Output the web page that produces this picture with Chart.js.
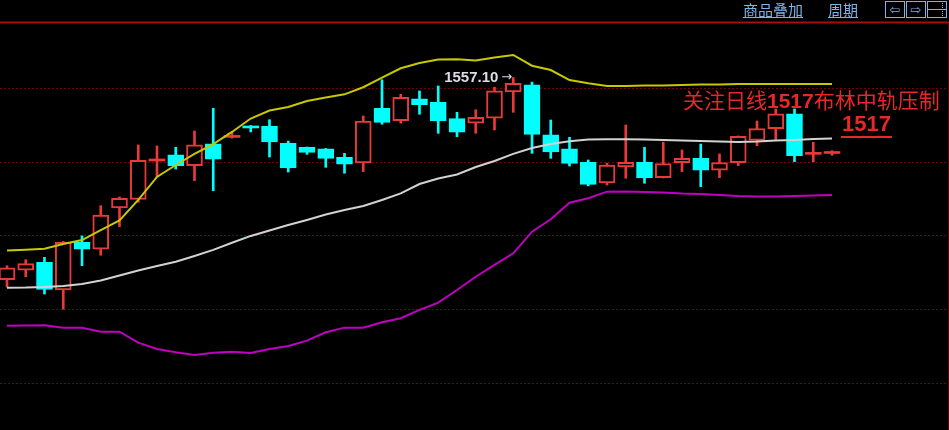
<!DOCTYPE html>
<html lang="zh">
<head>
<meta charset="UTF-8">
<title>日线 布林带</title>
<script src="https://cdn.jsdelivr.net/npm/chart.js"></script>
<style>
  body { margin: 0; background: #000; }
  #wrap { position: relative; width: 949px; height: 430px; overflow: hidden; background: #000; }
  #chart { position: absolute; left: 0; top: 0; }
  .menu { position: absolute; top: 1px; font: 15px "Noto Sans CJK SC"; line-height: 18px; color: #80b2ea; text-decoration: underline; }
  .btn { position: absolute; top: 1px; width: 18px; height: 15px; border: 1px solid #80b2ea; color: #80b2ea;
         font: 13px "DejaVu Sans"; line-height: 15px; text-align: center; }
  .note { position: absolute; color: #e62828; white-space: nowrap; }
</style>
</head>
<body>
<div id="wrap">
  <canvas id="chart" width="949" height="430"></canvas>

  <div class="menu" style="left:743px">商品叠加</div>
  <div class="menu" style="left:828px">周期</div>
  <div class="btn" style="left:885px">⇦</div>
  <div class="btn" style="left:906px">⇨</div>
  <div class="btn" style="left:927px">
    <div style="position:absolute;left:0;right:0;top:7px;border-top:1px solid #80b2ea"></div>
    <div style="position:absolute;right:3px;top:1px;bottom:1px;border-left:1px dotted #80b2ea"></div>
  </div>

  <div class="note" style="left:683px;top:89px;font:21px 'Noto Sans CJK SC';line-height:21px">关注日线<b style="font-family:'Liberation Sans'">1517</b>布林中轨压制</div>
  <div class="note" style="left:841px;top:112px;font:bold 22px 'Liberation Sans';line-height:24px;border-bottom:2px solid #e62828;padding:0 1px">1517</div>
</div>

<script>
    // 日K数据 (开 收 高 低)
    const opens  = [1420, 1426.4, 1431.8, 1413, 1445.4, 1440.7, 1468.6, 1474.5, 1500.5, 1504.6,
                    1497.3, 1512.2, 1516.5, 1524.2, 1524.2, 1512.5, 1509.7, 1508.8, 1503, 1499.2,
                    1536.2, 1527.8, 1542.7, 1540.3, 1529.2, 1526.1, 1529.5, 1547.3, 1552.2, 1518.3,
                    1508.8, 1499.6, 1485.6, 1496.4, 1499.6, 1489.2, 1499.4, 1502.3, 1494.2, 1499.4,
                    1514.5, 1522.4, 1532.4, 1505, 1505.6];
    const closes = [1428, 1431, 1413.5, 1445.4, 1440.7, 1463.9, 1475.2, 1501, 1501.2, 1497.3,
                    1511.4, 1501.7, 1517, 1522.9, 1513.4, 1495.8, 1506.4, 1502.3, 1498.3, 1527.6,
                    1526.7, 1543.7, 1538.7, 1527.6, 1520, 1530.1, 1548, 1553.2, 1518.6, 1506.6,
                    1498.9, 1484.7, 1497.8, 1499.6, 1489, 1498.7, 1502.3, 1494.2, 1499.4, 1517.3,
                    1522.4, 1532.4, 1504.1, 1505.4, 1506];
    const highs  = [1429.5, 1433.6, 1435.2, 1446, 1449.7, 1470.2, 1476.1, 1511.4, 1510.7, 1509.8,
                    1520.8, 1536.2, 1520.2, 1524.5, 1528.5, 1514, 1510, 1509, 1505.7, 1531,
                    1555.6, 1545.7, 1548, 1551.4, 1533.5, 1535.3, 1550.5, 1557.1, 1554, 1528.3,
                    1516.6, 1501.2, 1499, 1524.9, 1509.8, 1513.2, 1508, 1512, 1505.3, 1517.5,
                    1527.6, 1535.8, 1535.8, 1513.2, 1507.5];
    const lows   = [1415, 1422, 1410.3, 1400, 1429.5, 1436.6, 1456, 1472.5, 1490, 1495,
                    1487.2, 1480.4, 1516, 1520.2, 1503.2, 1493, 1505, 1496.2, 1492.2, 1493.3,
                    1525.4, 1526.1, 1532.2, 1519.3, 1517, 1519.3, 1521.5, 1533.5, 1505.7, 1502.3,
                    1497.1, 1483.6, 1484.2, 1488.8, 1485.4, 1489, 1493.3, 1483.1, 1489.2, 1497.3,
                    1510.9, 1515, 1500, 1500, 1504.4];

    // 布林带 上轨 / 中轨 / 下轨
    const upperBand = [1439.8, 1440.4, 1441.0, 1444.2, 1446.9, 1453.7, 1460.2, 1474.1, 1489.7, 1497.8,
                       1505.3, 1512.0, 1520.2, 1529.3, 1534.7, 1537.1, 1541.2, 1543.6, 1545.7, 1550.5,
                       1557.1, 1563.4, 1566.9, 1569.3, 1569.5, 1568.6, 1570.7, 1572.4, 1565.1, 1562.2,
                       1555.4, 1553.2, 1551.4, 1551.4, 1551.7, 1551.7, 1552.0, 1552.4, 1552.4, 1552.7,
                       1552.7, 1552.7, 1552.7, 1552.7, 1552.7];
    const midBand   = [1414.6, 1414.7, 1415.1, 1415.8, 1417.1, 1419.5, 1422.9, 1426.3, 1429.3, 1432.2,
                       1436.1, 1440.2, 1445.1, 1449.7, 1453.4, 1457.1, 1460.5, 1464.2, 1467.3, 1470.0,
                       1474.1, 1478.5, 1484.9, 1488.6, 1491.4, 1496.4, 1500.5, 1505.3, 1509.3, 1512.0,
                       1513.9, 1515.1, 1515.2, 1515.2, 1515.1, 1514.7, 1514.4, 1514.1, 1513.7, 1513.4,
                       1513.7, 1514.4, 1514.7, 1515.4, 1515.8];
    const lowerBand = [1388.8, 1389.0, 1389.1, 1387.5, 1387.5, 1384.8, 1384.8, 1377.3, 1373.0, 1370.8,
                       1369.0, 1370.5, 1371.2, 1370.3, 1373.0, 1375.1, 1378.7, 1384.4, 1387.5, 1387.5,
                       1391.2, 1393.9, 1399.5, 1404.5, 1413.0, 1422.0, 1430.0, 1437.9, 1452.6, 1461.0,
                       1472.2, 1475.2, 1479.7, 1479.8, 1479.5, 1479.2, 1478.5, 1478.1, 1477.5, 1476.8,
                       1476.4, 1476.4, 1476.8, 1477.1, 1477.5];

    const gridLevels = [1350, 1400, 1450, 1500, 1550];

    const RED = '#e83a3a';
    const CYAN = '#00ffff';
    const idx = opens.map((_, i) => i);
    const up = idx.map(i => closes[i] >= opens[i]);
    // 十字星: 实体太薄时画成实心横线
    const flat = idx.map(i => Math.abs(closes[i] - opens[i]) < 1.5);

    // 网格线、顶部红线、最高价标注
    const framePlugin = {
        id: 'frame',
        beforeDatasetsDraw(chart) {
            const { ctx, chartArea: a, scales: { y } } = chart;
            ctx.save();
            ctx.strokeStyle = '#7a0000';
            ctx.lineWidth = 1;
            ctx.setLineDash([2, 2]);
            gridLevels.forEach(v => {
                const py = Math.round(y.getPixelForValue(v)) + 0.5;
                ctx.beginPath();
                ctx.moveTo(a.left, py);
                ctx.lineTo(a.right, py);
                ctx.stroke();
            });
            ctx.setLineDash([]);
            ctx.strokeStyle = '#a01010';
            ctx.lineWidth = 2;
            ctx.beginPath();
            ctx.moveTo(0, a.top - 0.5);
            ctx.lineTo(a.right, a.top - 0.5);
            ctx.stroke();
            ctx.strokeStyle = '#5a0000';
            ctx.lineWidth = 1;
            ctx.beginPath();
            ctx.moveTo(a.right - 0.5, a.top);
            ctx.lineTo(a.right - 0.5, a.bottom);
            ctx.stroke();
            ctx.restore();
        },
        afterDatasetsDraw(chart) {
            const { ctx, scales: { x, y } } = chart;
            const top = highs.indexOf(Math.max(...highs));
            const px = x.getPixelForValue(top);
            const py = y.getPixelForValue(highs[top]);
            ctx.save();
            ctx.fillStyle = '#d8dde8';
            ctx.textBaseline = 'middle';
            ctx.textAlign = 'right';
            ctx.font = '13px "DejaVu Sans"';
            ctx.fillText('→', px - 1, py);
            const aw = ctx.measureText('→').width;
            ctx.font = 'bold 15px "Liberation Sans"';
            ctx.fillText(highs[top].toFixed(2), px - aw - 4, py);
            ctx.restore();
        }
    };

    new Chart(document.getElementById('chart'), {
        type: 'bar',
        data: {
            datasets: [
                { type: 'line', label: '上轨', data: upperBand.map((v, i) => ({ x: i, y: v })),
                  borderColor: '#c8c800', borderWidth: 2, pointRadius: 0, order: 0 },
                { type: 'line', label: '中轨', data: midBand.map((v, i) => ({ x: i, y: v })),
                  borderColor: '#d2d2d2', borderWidth: 2, pointRadius: 0, order: 0 },
                { type: 'line', label: '下轨', data: lowerBand.map((v, i) => ({ x: i, y: v })),
                  borderColor: '#c000c0', borderWidth: 2, pointRadius: 0, order: 0 },
                { label: '实体', data: idx.map(i => ({ x: i, y: [opens[i], closes[i]] })),
                  backgroundColor: idx.map(i => flat[i] ? (up[i] ? RED : CYAN) : (up[i] ? '#000' : CYAN)),
                  borderColor: up.map(u => u ? RED : CYAN),
                  borderWidth: idx.map(i => flat[i] ? 0 : 2),
                  borderSkipped: false, barThickness: 16, minBarLength: 2,
                  grouped: false, order: 1 },
                { label: '影线', data: idx.map(i => ({ x: i, y: [lows[i], highs[i]] })),
                  backgroundColor: up.map(u => u ? RED : CYAN),
                  borderWidth: 0, barThickness: 2, grouped: false, order: 2 }
            ]
        },
        options: {
            responsive: false,
            animation: false,
            layout: { padding: { top: 23 } },
            plugins: { legend: { display: false }, tooltip: { enabled: false } },
            scales: {
                x: { type: 'linear', min: -0.373, max: 50.24, offset: false, display: false },
                y: { min: 1318.1, max: 1594.07, display: false }
            }
        },
        plugins: [framePlugin]
    });
</script>
</body>
</html>
